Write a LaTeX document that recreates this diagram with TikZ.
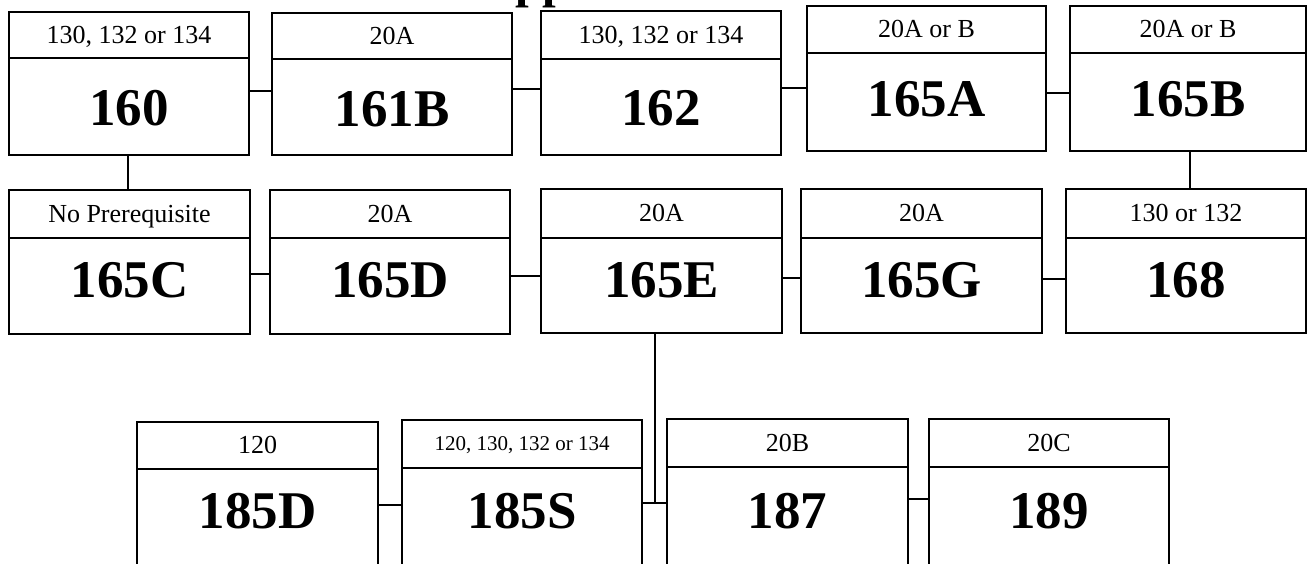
\documentclass[tikz,border=0pt]{standalone}
\usepackage{fontspec}
\setmainfont{Liberation Serif}
\usetikzlibrary{fit,calc}
\tikzset{
  box/.style={draw, line width=1.6pt, inner sep=0pt},
  divline/.style={line width=1.6pt},
  conn/.style={line width=1.4pt},
  lbl/.style={font=\fontsize{26}{30}\selectfont, inner sep=0pt, text height=17.7pt, text depth=0pt},
  slbl/.style={font=\fontsize{21}{25}\selectfont, inner sep=0pt, text height=14.3pt, text depth=0pt},
  num/.style={font=\fontsize{53}{60}\selectfont\bfseries, inner sep=0pt, text height=36pt, text depth=0pt},
}
\newcommand\crs[8][lbl]{%
  \node[box, fit={(#3) (#4)}] (#2) {};
  \draw[divline] (#2.west |- 0,#5) -- (#2.east |- 0,#5);
  \coordinate (#2-d) at (#2.center |- 0,#5);
  \node[#1] (#2-l) at ($(#2.north)!0.5!(#2-d)$) {#7};
  \node[num] (#2-n) at (#2.center |- 0,#6) {#8};
}
\begin{document}
\begin{tikzpicture}[x=1pt,y=-1pt]
\useasboundingbox (0,0) rectangle (1309,563);
\clip (0,0) rectangle (1309,563);
\node[anchor=base west, font=\fontsize{49}{55}\selectfont\bfseries, inner sep=0pt] (title) at (515,-3) {pp};
% row 1
\crs{c160}{9,12}{249,155}{58}{107}{130, 132 or 134}{160}
\crs{c161B}{272,13}{512,155}{59}{108}{20A}{161B}
\crs{c162}{541,11}{781,155}{59}{107}{130, 132 or 134}{162}
\crs{c165A}{807,6}{1046,151}{53}{98}{20A or B}{165A}
\crs{c165B}{1070,6}{1306,151}{53}{98}{20A or B}{165B}
% row 2
\crs{c165C}{9,190}{250,334}{238}{279}{No Prerequisite}{165C}
\crs{c165D}{270,190}{510,334}{238}{279}{20A}{165D}
\crs{c165E}{541,189}{782,333}{238}{279}{20A}{165E}
\crs{c165G}{801,189}{1042,333}{238}{279}{20A}{165G}
\crs{c168}{1066,189}{1306,333}{238}{279}{130 or 132}{168}
% row 3
\crs{c185D}{137,422}{378,620}{469}{510}{120}{185D}
\crs[slbl]{c185S}{402,420}{642,620}{468}{510}{120, 130, 132 or 134}{185S}
\crs{c187}{667,419}{908,620}{467}{510}{20B}{187}
\crs{c189}{929,419}{1169,620}{467}{510}{20C}{189}
% connectors row 1
\draw[conn] (c160.east |- 0,91) -- (c161B.west |- 0,91);
\draw[conn] (c161B.east |- 0,89) -- (c162.west |- 0,89);
\draw[conn] (c162.east |- 0,88) -- (c165A.west |- 0,88);
\draw[conn] (c165A.east |- 0,93) -- (c165B.west |- 0,93);
% verticals between rows 1 and 2
\draw[conn] (c160.south -| 128,0) -- (c165C.north -| 128,0);
\draw[conn] (c165B.south -| 1190,0) -- (c168.north -| 1190,0);
% connectors row 2
\draw[conn] (c165C.east |- 0,274) -- (c165D.west |- 0,274);
\draw[conn] (c165D.east |- 0,276) -- (c165E.west |- 0,276);
\draw[conn] (c165E.east |- 0,278) -- (c165G.west |- 0,278);
\draw[conn] (c165G.east |- 0,279) -- (c168.west |- 0,279);
% 165E down to row 3
\coordinate (j) at (655,503);
\draw[conn] (c165E.south -| j) -- (j);
% connectors row 3
\draw[conn] (c185D.east |- 0,505) -- (c185S.west |- 0,505);
\draw[conn] (c185S.east |- j) -- (c187.west |- j);
\draw[conn] (c187.east |- 0,499) -- (c189.west |- 0,499);
\end{tikzpicture}
\end{document}
